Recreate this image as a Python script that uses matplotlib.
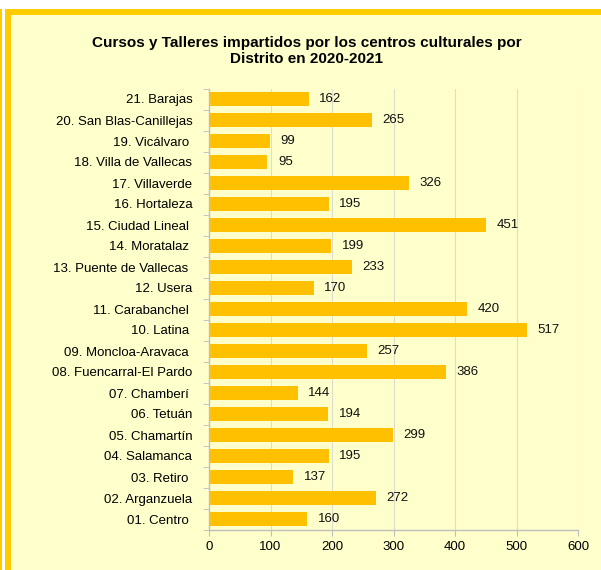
import matplotlib
matplotlib.use("Agg")
import matplotlib.pyplot as plt
from matplotlib.patches import Rectangle
import numpy as np

plt.rcParams['font.family'] = ['Liberation Sans', 'DejaVu Sans']

districts = [
    "01. Centro ", "02. Arganzuela", "03. Retiro ", "04. Salamanca", "05. Chamartín",
    "06. Tetuán", "07. Chamberí ", "08. Fuencarral-El Pardo", "09. Moncloa-Aravaca ",
    "10. Latina ", "11. Carabanchel ", "12. Usera", "13. Puente de Vallecas ",
    "14. Moratalaz ", "15. Ciudad Lineal ", "16. Hortaleza", "17. Villaverde",
    "18. Villa de Vallecas", "19. Vicálvaro ", "20. San Blas-Canillejas", "21. Barajas",
]
values = [160, 272, 137, 195, 299, 194, 144, 386, 257, 517, 420, 170, 233,
          199, 451, 195, 326, 95, 99, 265, 162]
xticks = [0, 100, 200, 300, 400, 500, 600]
title = "Cursos y Talleres impartidos por los centros culturales por\nDistrito en 2020-2021"

W, H = 601, 570
fig = plt.figure(figsize=(W / 100, H / 100), dpi=100)
fig.patch.set_facecolor('white')

# frame: cream panel with yellow border (cropped at right/bottom)
for rect in [
    Rectangle((5 / W, 0), 1, 1 - 9 / H, facecolor='#FFCC00'),
    Rectangle((11 / W, 0), 1, 1 - 15 / H, facecolor='#FFFFCC'),
    Rectangle((0, 0), 2 / W, 1 - 9 / H, facecolor='#FFCC00'),
]:
    rect.set_transform(fig.transFigure)
    rect.set_edgecolor('none')
    rect.set_zorder(-10)
    fig.patches.append(rect)

ax = fig.add_axes([209 / W, 1 - 529.5 / H, (578 - 209) / W, (529.5 - 88.5) / H])
ax.set_zorder(5)
ax.set_facecolor('none')

y = np.arange(len(districts))
ax.barh(y, values, height=0.7, color='#FFC000', edgecolor='none', zorder=2)
for yi, v in zip(y, values):
    ax.text(v + 17, yi, str(v), va='center', ha='left', fontsize=9.5, color='#111111')

ax.set_xlim(0, 600)
ax.set_ylim(-0.5, len(districts) - 0.5)
ax.set_xticks(xticks)
ax.set_xticklabels([str(t) for t in xticks], fontsize=9.5)
ax.set_yticks(y)
ax.set_yticklabels(districts, fontsize=9.5)
ax.set_yticks(np.arange(-0.5, len(districts), 1), minor=True)
ax.tick_params(axis='y', which='major', length=0, pad=12)
ax.tick_params(axis='y', which='minor', length=4, color='#BFBFBF')
ax.tick_params(axis='x', length=4, color='#BFBFBF', pad=4)
ax.grid(axis='x', color='#DDDDCC', linewidth=0.8, zorder=1)
ax.set_axisbelow(True)
for s in ['top', 'right']:
    ax.spines[s].set_visible(False)
for s in ['left', 'bottom']:
    ax.spines[s].set_color('#BFBFBF')
    ax.spines[s].set_linewidth(1)

fig.text(307 / W, 1 - 51 / H, title, ha='center', va='center', fontsize=11,
         fontweight='bold', linespacing=1.2)

fig.savefig('out.png', dpi=100, facecolor=fig.get_facecolor())
